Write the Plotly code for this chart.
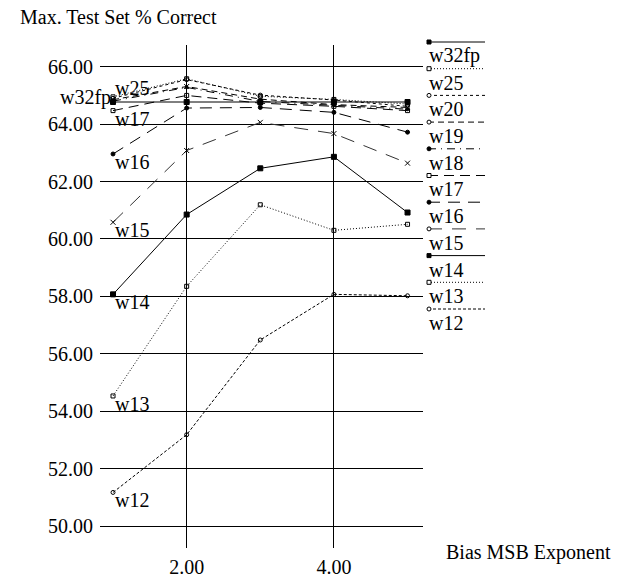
import plotly.graph_objects as go

# ---------------- data ----------------
exponents = [1, 2, 3, 4, 5]
series_names = ["w32fp", "w25", "w20", "w19", "w18", "w17", "w16", "w15", "w14", "w13", "w12"]
w32fp = [64.77, 64.77, 64.77, 64.77, 64.77]
w25 = [64.95, 65.58, 64.97, 64.86, 64.70]
w20 = [64.90, 65.55, 65.01, 64.84, 64.62]
w19 = [64.85, 65.31, 64.87, 64.68, 64.58]
w18 = [64.80, 65.28, 64.79, 64.66, 64.52]
w17 = [64.47, 65.00, 64.73, 64.62, 64.47]
w16 = [62.96, 64.56, 64.58, 64.41, 63.72]
w15 = [60.58, 63.08, 64.06, 63.67, 62.64]
w14 = [58.07, 60.85, 62.46, 62.86, 60.92]
w13 = [54.53, 58.35, 61.19, 60.30, 60.51]
w12 = [51.17, 53.18, 56.48, 58.07, 58.02]
values = [w32fp, w25, w20, w19, w18, w17, w16, w15, w14, w13, w12]

y_tickvals = [50, 52, 54, 56, 58, 60, 62, 64, 66]
y_ticktext = ["50.00", "52.00", "54.00", "56.00", "58.00", "60.00", "62.00", "64.00", "66.00"]
x_tickvals = [2, 4]
x_ticktext = ["2.00", "4.00"]

# ---------------- styles ----------------
FONT = "Liberation Serif"
FS = 20
dashes = ["solid", "1px,2px", "3px,3px", "6px,4px", "8px,5px,1px,5px", "10px,6px",
          "12px,8px", "14px,10px", "solid", "1px,2px", "3px,2px"]
symbols = ["square", "square-open", "circle-open", "x-thin-open", "circle", "square-open",
           "circle", "x-thin-open", "square", "square-open", "circle-open"]
msizes = [5, 4, 4, 5, 3, 4, 4, 5, 5, 4, 4]
colors = ["black"] * 7 + ["#333333"] + ["black"] * 3

fig = go.Figure()
for name, vals, d, s, ms, c in zip(series_names, values, dashes, symbols, msizes, colors):
    fig.add_trace(go.Scatter(
        x=exponents, y=vals, mode="lines+markers", name=name,
        line=dict(color=c, width=1, dash=d),
        marker=dict(symbol=s, size=ms, color="black", line=dict(color="black", width=1)),
        showlegend=False, hoverinfo="skip"))

# in-plot labels at first point
annotations = []
label_pos = {"w32fp": ("right", 5), "w25": ("left", 9), "w17": ("left", -8), "w16": ("left", -8),
             "w15": ("left", -8), "w14": ("left", -8), "w13": ("left", -8), "w12": ("left", -8)}
for name, vals in zip(series_names, values):
    if name in label_pos:
        xa, ys = label_pos[name]
        annotations.append(dict(x=exponents[0], y=vals[0], xref="x", yref="y", text=name,
                                showarrow=False, xanchor=xa, yanchor="middle", yshift=ys,
                                font=dict(family=FONT, size=FS, color="black")))

# page body has an 8px margin, so the figure is offset by OFF px
OFF = 8
FIG_W, FIG_H = 625 - OFF, 579 - OFF
L, T, W, H = 100 - OFF, 45 - OFF, 323, 503


def px(xp):  # reference-window pixel x -> paper
    return (xp - OFF - L) / W


def py(yp):  # reference-window pixel y -> paper
    return (T + H - (yp - OFF)) / H


shapes = []
leg_y0, leg_step = 42, 26.7
for i, (name, d, s, c) in enumerate(zip(series_names, dashes, symbols, colors)):
    yl = leg_y0 + i * leg_step
    shapes.append(dict(type="line", xref="paper", yref="paper", x0=px(428), x1=px(485),
                       y0=py(yl), y1=py(yl), line=dict(color=c, width=1, dash=d)))
    filled = s in ("square", "circle")
    stype = "rect" if "square" in s else "circle"
    shapes.append(dict(type=stype, xref="paper", yref="paper", xsizemode="pixel", ysizemode="pixel",
                       xanchor=px(429), yanchor=py(yl), x0=-2, x1=2, y0=-2, y1=2,
                       line=dict(color="black", width=1),
                       fillcolor="black" if filled else "white"))
    annotations.append(dict(x=px(427), y=py(yl + 14), xref="paper", yref="paper", text=name,
                            showarrow=False, xanchor="left", yanchor="middle",
                            font=dict(family=FONT, size=FS, color="black")))

annotations.append(dict(x=px(18), y=py(17), xref="paper", yref="paper",
                        text="Max. Test Set % Correct", showarrow=False,
                        xanchor="left", yanchor="middle",
                        font=dict(family=FONT, size=FS, color="black")))
annotations.append(dict(x=px(613), y=py(552), xref="paper", yref="paper",
                        text="Bias MSB Exponent", showarrow=False,
                        xanchor="right", yanchor="middle",
                        font=dict(family=FONT, size=FS, color="black")))

fig.update_layout(
    width=FIG_W, height=FIG_H,
    margin=dict(l=L, r=FIG_W - L - W, t=T, b=FIG_H - T - H, autoexpand=False),
    paper_bgcolor="white", plot_bgcolor="white",
    showlegend=False,
    font=dict(family=FONT, size=FS, color="black"),
    annotations=annotations, shapes=shapes,
    xaxis=dict(range=[0.823, 5.21], tickvals=x_tickvals, ticktext=x_ticktext,
               showgrid=True, gridcolor="black", gridwidth=1, zeroline=False,
               showline=False, ticks="", ticklabelstandoff=5,
               tickfont=dict(family=FONT, size=FS, color="black")),
    yaxis=dict(range=[49.234, 66.756], tickvals=y_tickvals, ticktext=y_ticktext,
               showgrid=True, gridcolor="black", gridwidth=1, zeroline=False,
               showline=False, ticks="", ticklabelstandoff=6,
               tickfont=dict(family=FONT, size=FS, color="black")),
)

fig.write_html("out.html")
